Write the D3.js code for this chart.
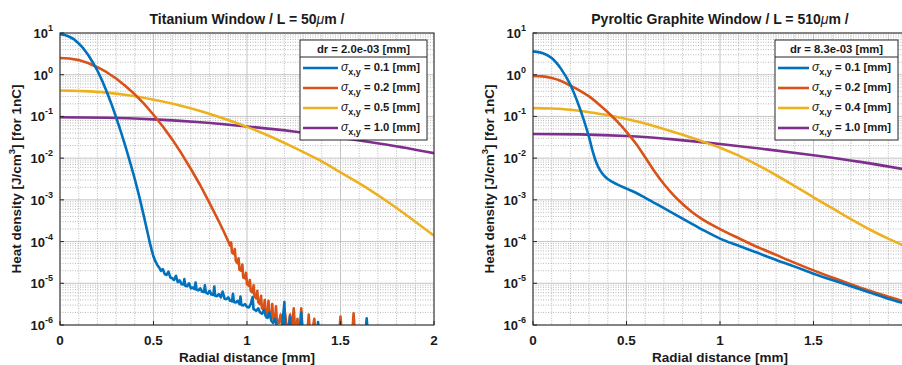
<!DOCTYPE html>
<html>
<head>
<meta charset="utf-8">
<script src="https://cdn.jsdelivr.net/npm/d3@7"></script>
<style>
  body { margin: 0; background: #fff; }
  svg { display: block; font-family: "Liberation Sans", Arial, sans-serif; font-weight: bold; }
</style>
</head>
<body>
<svg id="chart" width="902" height="365"></svg>
<script>
// values are [radial distance (mm), log10 of heat density]
const radialTicks = [0, 0.5, 1, 1.5, 2];
const decadeTicks = [-6, -5, -4, -3, -2, -1, 0, 1];
const seriesColors = ['#0072BD', '#D95319', '#EDB120', '#7E2F8E'];

const tiSigmas = ['0.1', '0.2', '0.5', '1.0'];
const pgSigmas = ['0.1', '0.2', '0.4', '1.0'];

const tiBlue = [[0,0.97],[0.025,0.955],[0.05,0.91],[0.075,0.85],[0.1,0.75],[0.125,0.63],[0.15,0.48],[0.175,0.3],[0.2,0.1],
  [0.225,-0.14],[0.25,-0.41],[0.275,-0.7],[0.3,-1.02],[0.325,-1.36],[0.35,-1.72],[0.375,-2.1],[0.4,-2.5],[0.425,-2.94],
  [0.45,-3.42],[0.47,-3.82],[0.48,-4.02],[0.49,-4.2],[0.5,-4.36],[0.51,-4.47],[0.52,-4.56],[0.53,-4.62],[0.54,-4.7],
  [0.55,-4.66],[0.56,-4.78],[0.57,-4.8],[0.58,-4.72],[0.59,-4.86],[0.6,-4.88],[0.61,-4.92],[0.62,-4.82],[0.63,-4.97],
  [0.64,-4.93],[0.65,-5.02],[0.66,-5.03],[0.665,-4.9],[0.67,-5.06],[0.68,-5.07],[0.69,-5.0],[0.7,-5.12],[0.71,-5.1],
  [0.72,-5.14],[0.725,-4.98],[0.73,-5.15],[0.74,-5.17],[0.75,-5.12],[0.76,-5.2],[0.77,-5.21],[0.775,-5.05],[0.78,-5.22],
  [0.79,-5.25],[0.8,-5.18],[0.81,-5.27],[0.82,-5.28],[0.825,-5.08],[0.83,-5.3],[0.84,-5.31],[0.85,-5.26],[0.86,-5.34],
  [0.87,-5.2],[0.88,-5.37],[0.89,-5.38],[0.9,-5.34],[0.91,-5.42],[0.92,-5.43],[0.925,-5.25],[0.93,-5.45],[0.94,-5.46],
  [0.95,-5.42],[0.96,-5.5],[0.965,-5.32],[0.97,-5.52],[0.98,-5.53],[0.99,-5.5],[1.0,-5.57],[1.01,-5.58],[1.02,-5.5],
  [1.03,-5.33],[1.035,-5.62],[1.04,-5.63],[1.05,-5.66],[1.06,-5.6],[1.07,-5.7],[1.08,-5.73],[1.09,-5.64],[1.1,-5.79],
  [1.11,-5.83],[1.12,-5.7],[1.13,-5.9],[1.14,-5.95],[1.15,-5.85],[1.16,-6.02],[1.17,-6.1],[1.18,-6.3],[1.19,-5.95],
  [1.2,-5.45],[1.205,-6.3],[1.22,-6.3],[1.23,-5.8],[1.24,-6.4],[1.28,-6.4],[1.29,-5.7],[1.3,-6.4],[1.37,-6.4],
  [1.38,-5.93],[1.39,-6.4],[1.63,-6.4],[1.64,-5.84],[1.65,-6.4],[2.0,-6.4]];

const tiRed = [[0,0.4],[0.05,0.39],[0.1,0.35],[0.15,0.28],[0.2,0.18],[0.25,0.06],[0.3,-0.09],[0.35,-0.27],[0.4,-0.47],
  [0.45,-0.7],[0.5,-0.96],[0.55,-1.24],[0.6,-1.55],[0.65,-1.89],[0.7,-2.26],[0.75,-2.65],[0.8,-3.08],[0.85,-3.52],
  [0.88,-3.8],[0.9,-4.0],[0.91,-4.1],[0.915,-4.02],[0.92,-4.26],[0.93,-4.3],[0.935,-4.18],[0.94,-4.46],[0.95,-4.52],
  [0.955,-4.4],[0.96,-4.68],[0.97,-4.7],[0.975,-4.55],[0.98,-4.86],[0.99,-4.88],[0.995,-4.75],[1.0,-5.02],[1.01,-5.06],
  [1.015,-4.92],[1.02,-5.18],[1.03,-5.22],[1.035,-5.05],[1.04,-5.32],[1.05,-5.36],[1.055,-5.18],[1.06,-5.45],
  [1.07,-5.5],[1.075,-5.3],[1.08,-5.6],[1.09,-5.62],[1.095,-5.4],[1.1,-5.7],[1.11,-5.75],[1.115,-5.42],[1.12,-5.8],
  [1.13,-5.82],[1.135,-5.5],[1.14,-5.85],[1.15,-5.9],[1.155,-5.55],[1.16,-5.92],[1.17,-5.95],[1.18,-5.75],[1.19,-6.1],
  [1.2,-5.6],[1.21,-5.95],[1.22,-6.2],[1.23,-5.75],[1.24,-6.1],[1.25,-5.6],[1.26,-6.3],[1.27,-5.85],[1.28,-6.4],
  [1.29,-5.6],[1.3,-6.4],[1.32,-6.4],[1.33,-5.75],[1.34,-6.4],[1.36,-5.85],[1.37,-6.4],[1.49,-6.4],[1.5,-5.8],
  [1.51,-6.4],[1.56,-6.4],[1.57,-5.72],[1.58,-6.4],[2.0,-6.4]];

const tiYellow = [[0,-0.38],[0.125,-0.394],[0.25,-0.43],[0.375,-0.5],[0.5,-0.6],[0.625,-0.72],[0.75,-0.87],
  [0.875,-1.05],[1.0,-1.25],[1.125,-1.48],[1.25,-1.74],[1.375,-2.02],[1.5,-2.34],[1.625,-2.67],[1.75,-3.04],
  [1.875,-3.44],[2.0,-3.86]];

const tiPurple = [[0,-1.02],[0.25,-1.03],[0.5,-1.07],[0.75,-1.14],[1.0,-1.24],[1.25,-1.36],[1.5,-1.51],[1.75,-1.68],[2.0,-1.88]];

const pgBlue = [[0,0.56],[0.05,0.52],[0.1,0.4],[0.15,0.14],[0.2,-0.24],[0.25,-0.8],[0.28,-1.2],[0.3,-1.5],[0.32,-1.85],
  [0.34,-2.12],[0.36,-2.3],[0.38,-2.42],[0.4,-2.5],[0.45,-2.63],[0.5,-2.73],[0.55,-2.83],[0.6,-2.95],[0.7,-3.2],
  [0.8,-3.45],[0.9,-3.7],[1.0,-3.93],[1.1,-4.1],[1.2,-4.27],[1.3,-4.44],[1.4,-4.6],[1.5,-4.77],[1.6,-4.92],
  [1.7,-5.07],[1.8,-5.22],[1.9,-5.37],[2.0,-5.5]];

const pgRed = [[0,-0.03],[0.05,-0.04],[0.1,-0.08],[0.15,-0.15],[0.2,-0.26],[0.25,-0.38],[0.3,-0.52],[0.35,-0.7],
  [0.4,-0.9],[0.45,-1.12],[0.5,-1.37],[0.55,-1.65],[0.6,-1.98],[0.65,-2.32],[0.7,-2.62],[0.75,-2.88],[0.8,-3.1],
  [0.85,-3.29],[0.9,-3.45],[1.0,-3.7],[1.1,-3.92],[1.2,-4.13],[1.3,-4.32],[1.4,-4.51],[1.5,-4.69],[1.6,-4.86],
  [1.7,-5.02],[1.8,-5.18],[1.9,-5.32],[2.0,-5.46]];

const pgYellow = [[0,-0.8],[0.1,-0.81],[0.2,-0.84],[0.3,-0.9],[0.4,-0.97],[0.5,-1.06],[0.6,-1.17],[0.7,-1.3],
  [0.8,-1.44],[0.9,-1.59],[1.0,-1.75],[1.1,-1.94],[1.2,-2.16],[1.3,-2.41],[1.4,-2.67],[1.5,-2.94],[1.6,-3.2],
  [1.7,-3.46],[1.8,-3.71],[1.9,-3.93],[2.0,-4.13]];

const pgPurple = [[0,-1.42],[0.25,-1.43],[0.5,-1.47],[0.75,-1.55],[1.0,-1.66],[1.25,-1.79],[1.5,-1.93],[1.75,-2.09],[2.0,-2.28]];

const panels = [
  { id: 'ti', title: ['Titanium Window / L = 50', 'm /'], dr: 'dr = 2.0e-03 [mm]', sigmas: tiSigmas,
    series: [tiBlue, tiRed, tiYellow, tiPurple], noisy: [true, true, false, false],
    left: 60, right: 434, top: 33, bottom: 325, yLabelX: 21, legendX: 300, legendW: 127 },
  { id: 'pg', title: ['Pyroltic Graphite Window / L = 510', 'm /'], dr: 'dr = 8.3e-03 [mm]', sigmas: pgSigmas,
    series: [pgBlue, pgRed, pgYellow, pgPurple], noisy: [false, false, false, false],
    left: 533, right: 907, top: 33, bottom: 325, yLabelX: 494, legendX: 775, legendW: 123 }
];

const width = 902;
const svg = d3.select('#chart');
const ink = '#1a1a1a';

panels.forEach((p) => drawPanel(p));

function drawPanel(p) {
  const x = d3.scaleLinear().domain([0, 2]).range([p.left, p.right]);
  const y = d3.scaleLog().domain([1e-6, 10]).range([p.bottom, p.top]);
  const g = svg.append('g');

  // minor grid
  const minorX = d3.range(0, 2.0001, 0.1).filter((v) => Math.abs(v * 2 - Math.round(v * 2)) > 1e-6);
  const minorY = [];
  decadeTicks.slice(0, -1).forEach((e) => { for (let k = 2; k <= 9; k++) minorY.push(k * Math.pow(10, e)); });

  g.selectAll('.mx').data(minorX).enter().append('line')
    .attr('x1', (d) => x(d)).attr('x2', (d) => x(d)).attr('y1', p.top).attr('y2', p.bottom)
    .attr('stroke', '#a8a8a8').attr('stroke-width', 0.8).attr('stroke-dasharray', '1,1.5');
  g.selectAll('.my').data(minorY).enter().append('line')
    .attr('x1', p.left).attr('x2', p.right).attr('y1', (d) => y(d)).attr('y2', (d) => y(d))
    .attr('stroke', '#a8a8a8').attr('stroke-width', 0.8).attr('stroke-dasharray', '1,1.5');

  // major grid
  g.selectAll('.gx').data(radialTicks).enter().append('line')
    .attr('x1', (d) => x(d)).attr('x2', (d) => x(d)).attr('y1', p.top).attr('y2', p.bottom)
    .attr('stroke', '#c4c4c4').attr('stroke-width', 1);
  g.selectAll('.gy').data(decadeTicks).enter().append('line')
    .attr('x1', p.left).attr('x2', p.right).attr('y1', (d) => y(Math.pow(10, d))).attr('y2', (d) => y(Math.pow(10, d)))
    .attr('stroke', '#c4c4c4').attr('stroke-width', 1);

  // curves
  svg.append('clipPath').attr('id', 'clip-' + p.id).append('rect')
    .attr('x', p.left).attr('y', p.top).attr('width', p.right - p.left).attr('height', p.bottom - p.top);
  const curves = g.append('g').attr('clip-path', `url(#clip-${p.id})`);
  [3, 2, 1, 0].forEach((i) => {
    const line = d3.line().x((d) => x(d[0])).y((d) => y(Math.pow(10, d[1])))
      .curve(p.noisy[i] ? d3.curveLinear : d3.curveMonotoneX);
    curves.append('path').datum(p.series[i]).attr('d', line).attr('fill', 'none')
      .attr('stroke', seriesColors[i]).attr('stroke-width', 2.6).attr('stroke-linejoin', 'round');
  });

  // axes box
  g.append('rect').attr('x', p.left).attr('y', p.top).attr('width', p.right - p.left).attr('height', p.bottom - p.top)
    .attr('fill', 'none').attr('stroke', '#262626').attr('stroke-width', 1);

  // ticks
  g.selectAll('.tx').data(radialTicks).enter().append('line')
    .attr('x1', (d) => x(d)).attr('x2', (d) => x(d)).attr('y1', p.bottom).attr('y2', p.bottom - 4)
    .attr('stroke', '#262626');
  g.selectAll('.ty').data(decadeTicks).enter().append('line')
    .attr('x1', p.left).attr('x2', p.left + 4).attr('y1', (d) => y(Math.pow(10, d))).attr('y2', (d) => y(Math.pow(10, d)))
    .attr('stroke', '#262626');

  // tick labels past the window edge fall outside the picture, as in the original
  g.selectAll('.xl').data(radialTicks.filter((d) => x(d) < width - 4)).enter().append('text')
    .attr('x', (d) => x(d)).attr('y', p.bottom + 20).attr('text-anchor', 'middle')
    .attr('font-size', 13.5).attr('fill', ink).text((d) => d3.format('~g')(d));

  const yl = g.selectAll('.yl').data(decadeTicks).enter().append('text')
    .attr('x', p.left - 7).attr('y', (d) => y(Math.pow(10, d)) + 5).attr('text-anchor', 'end')
    .attr('font-size', 13).attr('fill', ink);
  yl.append('tspan').text('10');
  yl.append('tspan').attr('dy', -7).attr('font-size', 9).text((d) => (d < 0 ? '-' : '') + Math.abs(d));

  // axis labels
  const cx = (p.left + p.right) / 2;
  g.append('text').attr('x', cx).attr('y', 362).attr('text-anchor', 'middle')
    .attr('font-size', 13.5).attr('fill', ink).text('Radial distance [mm]');
  const ylab = g.append('text').attr('transform', `translate(${p.yLabelX},${(p.top + p.bottom) / 2}) rotate(-90)`)
    .attr('text-anchor', 'middle').attr('font-size', 13.5).attr('fill', ink);
  ylab.append('tspan').text('Heat density [J/cm');
  ylab.append('tspan').attr('dy', -6).attr('font-size', 9.5).text('3');
  ylab.append('tspan').attr('dy', 6).text('] [for 1nC]');

  const title = g.append('text').attr('x', cx).attr('y', 24).attr('text-anchor', 'middle')
    .attr('font-size', 14).attr('fill', ink);
  title.append('tspan').text(p.title[0]);
  title.append('tspan').attr('font-style', 'italic').attr('font-weight', 'normal').text('\u03bc');
  title.append('tspan').text(p.title[1]);

  // legend
  const lg = g.append('g').attr('transform', `translate(${p.legendX},40)`);
  lg.append('rect').attr('width', p.legendW).attr('height', 100).attr('fill', '#fff')
    .attr('stroke', '#262626').attr('stroke-width', 1);
  lg.append('line').attr('x1', 0).attr('x2', p.legendW).attr('y1', 17).attr('y2', 17)
    .attr('stroke', '#262626').attr('stroke-width', 1);
  lg.append('text').attr('x', p.legendW / 2).attr('y', 13).attr('text-anchor', 'middle')
    .attr('font-size', 11.3).attr('fill', ink).text(p.dr);
  const rows = lg.selectAll('.row').data(p.sigmas).enter().append('g')
    .attr('transform', (d, i) => `translate(0,${28 + i * 20})`);
  rows.append('line').attr('x1', 3).attr('x2', p.legendW - 89).attr('stroke', (d, i) => seriesColors[i])
    .attr('stroke-width', 2.6);
  const lt = rows.append('text').attr('x', p.legendW - 86).attr('y', 3).attr('font-size', 11.3).attr('fill', ink);
  lt.append('tspan').attr('font-style', 'italic').attr('font-weight', 'normal').attr('font-size', 12).text('\u03c3');
  lt.append('tspan').attr('dy', 4).attr('font-size', 9).text('x,y');
  lt.append('tspan').attr('dy', -4).text((d) => ` = ${d} [mm]`);
}
</script>
</body>
</html>
